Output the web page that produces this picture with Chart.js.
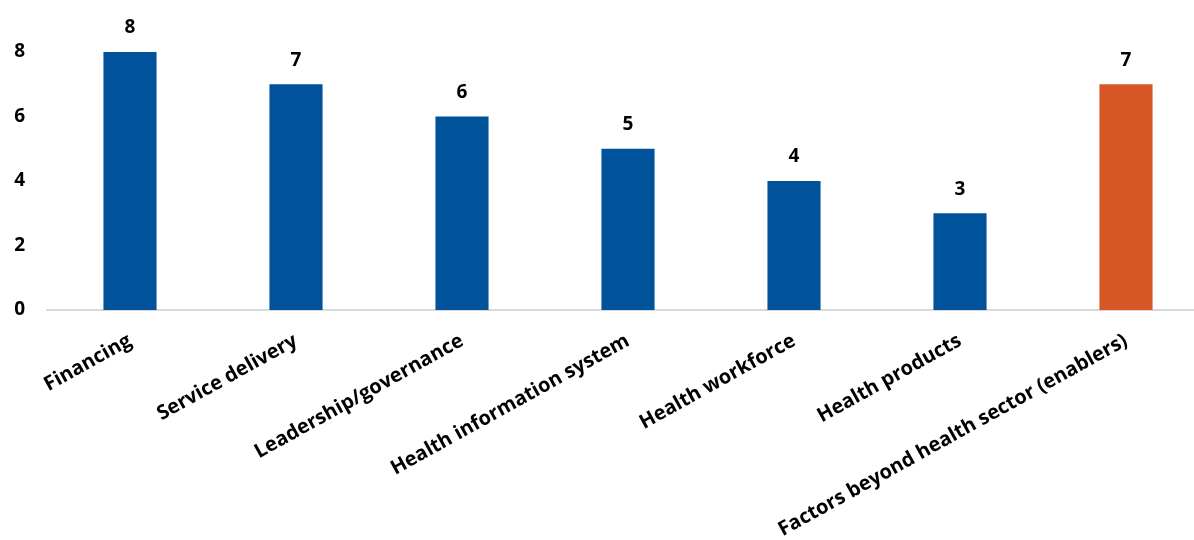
<!DOCTYPE html>
<html>
<head>
<meta charset="utf-8">
<script src="https://cdn.jsdelivr.net/npm/chart.js@4"></script>
<style>
  body { margin: 0; background: #fff; }
  #wrap { width: 1194px; height: 540px; overflow: hidden; }
</style>
</head>
<body>
<div id="wrap"><canvas id="myChart" width="1209" height="540"></canvas></div>
<script>
const categories = [
    'Financing',
    'Service delivery',
    'Leadership/governance',
    'Health information system',
    'Health workforce',
    'Health products',
    'Factors beyond health sector (enablers)'
];
const counts = [8, 7, 6, 5, 4, 3, 7];
const barColors = ['#00539b', '#00539b', '#00539b', '#00539b', '#00539b', '#00539b', '#d65626'];
const yTicks = [0, 2, 4, 6, 8];

const fontFamily = '"Open Sans", Lato, sans-serif';

// value labels above each bar
const valueLabels = {
    id: 'valueLabels',
    afterDatasetsDraw(chart) {
        const ctx = chart.ctx;
        const meta = chart.getDatasetMeta(0);
        ctx.save();
        ctx.font = 'bold 19px ' + fontFamily;
        ctx.fillStyle = '#000';
        ctx.textAlign = 'center';
        ctx.textBaseline = 'middle';
        meta.data.forEach((bar, i) => {
            ctx.fillText(counts[i], bar.x, bar.y - 24);
        });
        ctx.restore();
    }
};

const ctx = document.getElementById('myChart');
const barChart = new Chart(ctx, {
    type: 'bar',
    data: {
        labels: categories,
        datasets: [{
            data: counts,
            backgroundColor: barColors,
            categoryPercentage: 1,
            barPercentage: 0.32
        }]
    },
    options: {
        responsive: false,
        animation: false,
        layout: { padding: { top: 52, left: 0, right: 0, bottom: 0 } },
        plugins: {
            legend: { display: false },
            tooltip: { enabled: false }
        },
        scales: {
            x: {
                grid: { display: false, drawTicks: false },
                border: { color: '#d9d9d9', width: 2 },
                ticks: {
                    color: '#000',
                    font: { family: fontFamily, size: 20, weight: 'bold' },
                    minRotation: 29,
                    maxRotation: 29,
                    padding: 19,
                    autoSkip: false
                },
                afterFit(scale) { scale.height = 230; }
            },
            y: {
                min: 0,
                max: 8,
                grid: { display: false, drawTicks: false },
                border: { display: false },
                afterBuildTicks(scale) {
                    scale.ticks = yTicks.map(v => ({ value: v }));
                },
                ticks: {
                    color: '#000',
                    font: { family: fontFamily, size: 19, weight: 'bold' },
                    padding: 22
                },
                afterFit(scale) { scale.width = 47; }
            }
        }
    },
    plugins: [valueLabels]
});
</script>
</body>
</html>
